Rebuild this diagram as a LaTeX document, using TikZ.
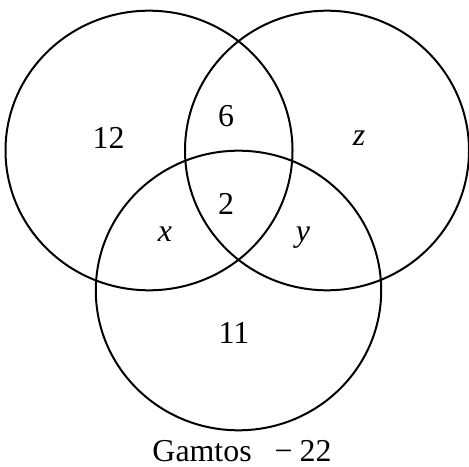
\documentclass[tikz,border=0pt]{standalone}
\usepackage{fontspec}
\setmainfont{Liberation Serif}
\begin{document}
\begin{tikzpicture}[x=1bp,y=-1bp,
  setc/.style={draw=black,line width=2bp},
  lbl/.style={anchor=base,inner sep=0pt,font=\fontsize{32}{36}\selectfont}]
\useasboundingbox (0,0) rectangle (469,467);
\draw[setc] (149,150.5) ellipse [x radius=143.5, y radius=139.8];
\draw[setc] (327,150.5) ellipse [x radius=142, y radius=139.8];
\draw[setc] (238.5,290.5) ellipse [x radius=142.7, y radius=139.8];
\node[lbl] (n12) at (108.5,148.3) {12};
\node[lbl] (n6) at (226,126.7) {6};
\node[lbl] (nz) at (359,146) {\textit{z}};
\node[lbl] (n2) at (226,215) {2};
\node[lbl] (nx) at (165,241.5) {\textit{x}};
\node[lbl] (ny) at (303,241.5) {\textit{y}};
\node[lbl] (n11) at (234,343) {11};
\node[lbl] (cap) at (242,461.5) {Gamtos\hspace{23bp}−\hspace{7bp}22};
\end{tikzpicture}
\end{document}
